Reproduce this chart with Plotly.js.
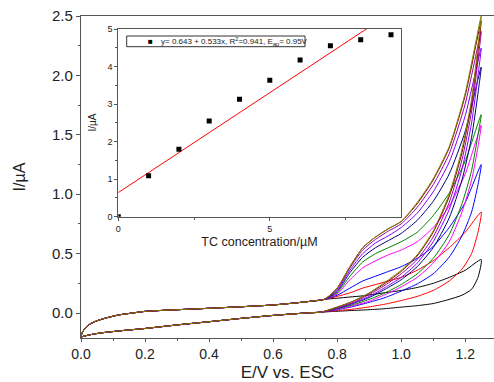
<!DOCTYPE html>
<html><head><meta charset="utf-8">
<script src="https://cdn.plot.ly/plotly-3.0.1.min.js"></script>
<style>html,body{margin:0;padding:0;background:#fff}#c{width:494px;height:382px}</style>
</head><body><div id="c"></div>
<script>
// ---- Main CV data (E / V vs. ESC, I / uA) ----
// shared low-potential part of the forward (upper) branch
var baseUpE = [0, 0.005, 0.015, 0.03, 0.05, 0.08, 0.12, 0.16, 0.2, 0.3, 0.4, 0.5, 0.6, 0.68, 0.72];
var baseUpI = [-0.2, -0.16, -0.12, -0.09, -0.065, -0.04, -0.015, 0.0, 0.014, 0.028, 0.04, 0.053, 0.068, 0.088, 0.10];
// upper branch, high potential
var upE = [0.76, 0.80, 0.84, 0.88, 0.92, 0.96, 1.00, 1.05, 1.10, 1.15, 1.20, 1.25];
var upBlack   = [0.115, 0.125, 0.135, 0.145, 0.16, 0.175, 0.19, 0.215, 0.25, 0.30, 0.36, 0.45];
var upRed     = [0.115, 0.14, 0.17, 0.21, 0.24, 0.27, 0.30, 0.36, 0.44, 0.55, 0.68, 0.85];
var upBlue    = [0.115, 0.15, 0.21, 0.27, 0.31, 0.35, 0.39, 0.46, 0.56, 0.72, 0.93, 1.25];
var upMagenta = [0.115, 0.16, 0.28, 0.38, 0.44, 0.49, 0.53, 0.60, 0.72, 0.90, 1.17, 1.58];
var upGreen   = [0.115, 0.17, 0.31, 0.43, 0.50, 0.55, 0.60, 0.68, 0.82, 1.01, 1.28, 1.67];
var upNavy    = [0.115, 0.18, 0.34, 0.47, 0.55, 0.61, 0.67, 0.78, 0.94, 1.17, 1.53, 2.07];
var upViolet  = [0.115, 0.19, 0.36, 0.50, 0.59, 0.65, 0.72, 0.84, 1.02, 1.27, 1.66, 2.23];
var upPurple  = [0.115, 0.20, 0.38, 0.53, 0.62, 0.69, 0.75, 0.89, 1.08, 1.34, 1.76, 2.37];
var upWine    = [0.115, 0.21, 0.39, 0.55, 0.64, 0.71, 0.77, 0.92, 1.12, 1.39, 1.83, 2.46];
var upOlive   = [0.115, 0.21, 0.39, 0.55, 0.64, 0.71, 0.77, 0.93, 1.13, 1.40, 1.85, 2.50];
// reverse (lower) branch, high potential
var loE = [1.24, 1.22, 1.19, 1.15, 1.10, 1.05, 1.00, 0.95, 0.90, 0.85, 0.80];
var loBlack   = [0.30, 0.20, 0.15, 0.115, 0.08, 0.062, 0.05, 0.037, 0.028, 0.022, 0.015];
var loRed     = [0.68, 0.50, 0.37, 0.27, 0.19, 0.14, 0.105, 0.075, 0.052, 0.033, 0.02];
var loBlue    = [1.08, 0.85, 0.65, 0.47, 0.33, 0.245, 0.185, 0.13, 0.09, 0.055, 0.028];
var loMagenta = [1.40, 1.12, 0.85, 0.60, 0.42, 0.30, 0.22, 0.155, 0.10, 0.062, 0.032];
var loGreen   = [1.50, 1.20, 0.92, 0.66, 0.46, 0.33, 0.24, 0.17, 0.115, 0.07, 0.036];
var loNavy    = [1.85, 1.48, 1.12, 0.80, 0.55, 0.39, 0.28, 0.20, 0.13, 0.08, 0.04];
var loViolet  = [2.00, 1.60, 1.21, 0.87, 0.60, 0.42, 0.30, 0.215, 0.14, 0.085, 0.043];
var loPurple  = [2.13, 1.70, 1.29, 0.93, 0.64, 0.45, 0.33, 0.235, 0.155, 0.09, 0.046];
var loWine    = [2.20, 1.77, 1.35, 0.98, 0.68, 0.48, 0.35, 0.25, 0.165, 0.10, 0.05];
var loOlive   = [2.25, 1.80, 1.38, 1.00, 0.69, 0.49, 0.36, 0.26, 0.17, 0.10, 0.05];
// shared low-potential part of the reverse branch
var baseLoE = [0.75, 0.7, 0.6, 0.5, 0.4, 0.3, 0.2, 0.12, 0.06, 0.03, 0.01, 0];
var baseLoI = [0.008, 0.0, -0.02, -0.045, -0.073, -0.10, -0.13, -0.15, -0.168, -0.182, -0.194, -0.2];

var curveColors = ['#000000', '#ff0000', '#0000ff', '#ff00ff', '#008000', '#000080', '#8000ff', '#a000a0', '#800000', '#808000'];
var upSets = [upBlack, upRed, upBlue, upMagenta, upGreen, upNavy, upViolet, upPurple, upWine, upOlive];
var loSets = [loBlack, loRed, loBlue, loMagenta, loGreen, loNavy, loViolet, loPurple, loWine, loOlive];

// ---- Inset data ----
var tcConc = [0, 1, 2, 3, 4, 5, 6, 7, 8, 9];
var peakI  = [0, 1.09, 1.80, 2.55, 3.13, 3.64, 4.18, 4.56, 4.72, 4.85];
var fitIntercept = 0.643, fitSlope = 0.533;
var fitX = [0, 9.3];

var traces = [];
for (var i = 0; i < upSets.length; i++) {
  traces.push({
    x: baseUpE.concat(upE, loE, baseLoE),
    y: baseUpI.concat(upSets[i], loSets[i], baseLoI),
    type: 'scatter', mode: 'lines', showlegend: false,
    line: {color: curveColors[i], width: 1, shape: 'spline', smoothing: 0.6},
    xaxis: 'x', yaxis: 'y', hoverinfo: 'skip'
  });
}
traces.push({
  x: fitX, y: fitX.map(function (v) { return fitIntercept + fitSlope * v; }),
  type: 'scatter', mode: 'lines', showlegend: false,
  line: {color: '#ff0000', width: 1}, xaxis: 'x2', yaxis: 'y2'
});
traces.push({
  x: tcConc, y: peakI, type: 'scatter', mode: 'markers', showlegend: false,
  marker: {symbol: 'square', size: 5, color: '#000'}, xaxis: 'x2', yaxis: 'y2'
});

var F = 'Arial, "Liberation Sans", sans-serif';
var axCol = '#555';
// pixel helpers for paper coords (plot area 81..494 x, 16..338 y)
function px(v) { return (v - 81) / 413; }
function py(v) { return (338 - v) / 322; }

var layout = {
  width: 494, height: 382,
  margin: {l: 81, r: 0, t: 16, b: 44, pad: 0},
  paper_bgcolor: '#fff', plot_bgcolor: '#fff',
  font: {family: F, color: '#222'},
  xaxis: {
    range: [0, 1.29], tick0: 0, dtick: 0.2, tickformat: '.1f',
    showgrid: false, zeroline: false, showline: true, linecolor: axCol, linewidth: 1.2, mirror: true,
    ticks: 'outside', ticklen: 3, tickcolor: axCol, tickwidth: 1,
    minor: {dtick: 0.1, ticks: 'outside', ticklen: 2, tickcolor: axCol},
    tickfont: {size: 14, family: F, color: '#222'},
    title: {text: 'E/V vs. ESC', font: {size: 17, family: F, color: '#222'}, standoff: 11}
  },
  yaxis: {
    range: [-0.21, 2.5], tick0: 0, dtick: 0.5, tickformat: '.1f',
    showgrid: false, zeroline: false, showline: true, linecolor: axCol, linewidth: 1.2, mirror: true,
    ticks: 'outside', ticklen: 4, tickcolor: axCol, tickwidth: 1,
    minor: {dtick: 0.25, ticks: 'outside', ticklen: 2, tickcolor: axCol},
    tickfont: {size: 15, family: F, color: '#222'},
    title: {text: 'I/µA', font: {size: 16, family: F, color: '#222'}, standoff: 22}
  },
  xaxis2: {
    domain: [px(118.3), px(400.7)], anchor: 'y2', range: [0, 9.32],
    tickvals: [0, 5], ticktext: ['0', '5'],
    showgrid: false, zeroline: false, showline: true, linecolor: axCol, linewidth: 1, mirror: true,
    ticks: 'outside', ticklen: 3, tickcolor: axCol,
    minor: {tickvals: [2.5, 7.5], ticks: 'outside', ticklen: 2, tickcolor: axCol},
    tickfont: {size: 9, family: F, color: '#222'},
    title: {text: 'TC concentration/µM', font: {size: 12.5, family: F, color: '#222'}, standoff: 4}
  },
  yaxis2: {
    domain: [py(216.7), py(28.5)], anchor: 'x2', range: [0, 5.02],
    tick0: 0, dtick: 1,
    showgrid: false, zeroline: false, showline: true, linecolor: axCol, linewidth: 1, mirror: true,
    ticks: 'outside', ticklen: 3, tickcolor: axCol,
    minor: {dtick: 0.5, ticks: 'outside', ticklen: 2, tickcolor: axCol},
    tickfont: {size: 9, family: F, color: '#222'},
    title: {text: 'I/µA', font: {size: 10, family: F, color: '#222'}, standoff: 8}
  },
  shapes: [{
    type: 'rect', xref: 'paper', yref: 'paper',
    x0: px(126.7), x1: px(305), y0: py(46.7), y1: py(36),
    line: {color: '#333', width: 1}, fillcolor: '#fff'
  }],
  annotations: [
    {xref: 'paper', yref: 'paper', x: px(150), y: py(41.3), text: '■', showarrow: false,
     font: {size: 8, family: F, color: '#000'}, xanchor: 'center', yanchor: 'middle'},
    {xref: 'paper', yref: 'paper', x: px(159), y: py(41.3),
     text: 'y= 0.643 + 0.533x, R<sup>2</sup>=0.941, E<sub>ap</sub>= 0.95V', showarrow: false,
     font: {size: 8, family: F, color: '#222'}, xanchor: 'left', yanchor: 'middle'}
  ],
  showlegend: false
};

Plotly.newPlot('c', traces, layout, {staticPlot: true, displayModeBar: false});
</script>
</body></html>
